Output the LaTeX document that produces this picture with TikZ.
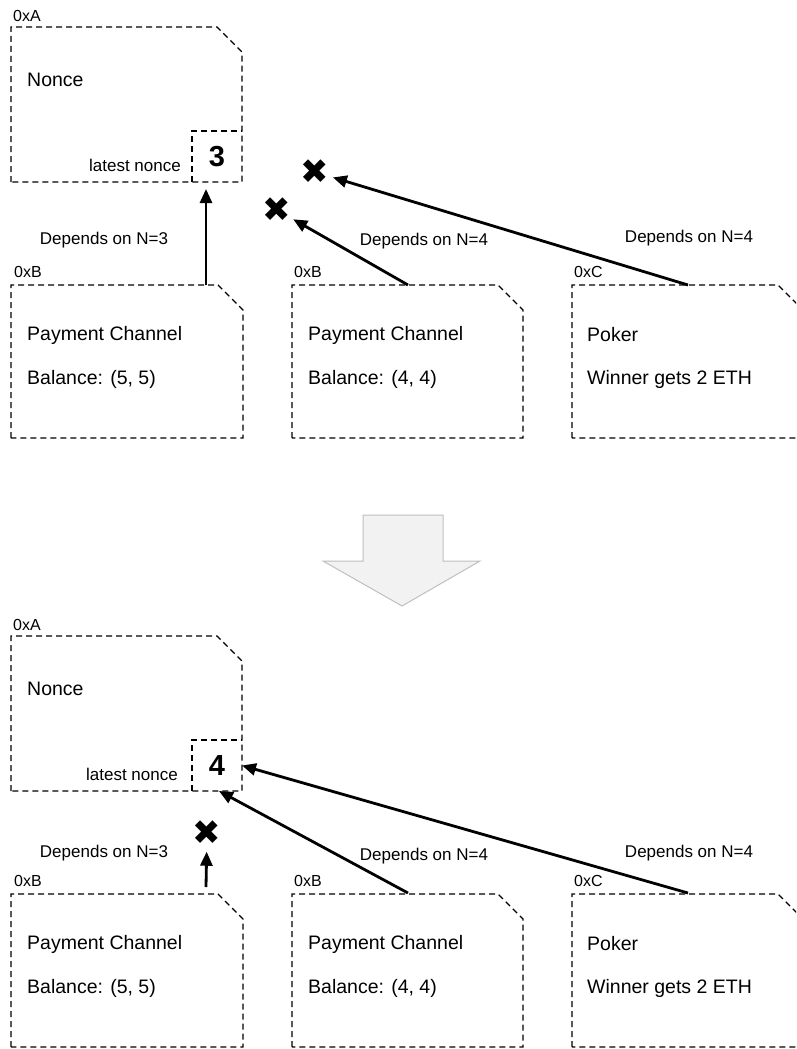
\documentclass[tikz,border=0pt]{standalone}
\usepackage{fontspec}
\setmainfont{Liberation Sans}
\newfontfamily\symfont{DejaVu Sans}
\usetikzlibrary{arrows.meta}

\tikzset{
  frame/.style={inner sep=0pt, outer sep=0pt, anchor=north west},
  dashline/.style={draw=black, line width=1.2pt, dash pattern=on 6pt off 4pt},
  lbl/.style={inner sep=0pt, font=\fontsize{17}{20}\selectfont},
  addr/.style={inner sep=0pt, anchor=west, font=\fontsize{16}{19}\selectfont},
  body/.style={inner sep=0pt, anchor=west, font=\fontsize{19.5}{23}\selectfont},
  nonceval/.style={inner sep=0pt, font=\fontsize{29}{32}\selectfont\bfseries},
  dep/.style={line width=2.8pt, -{Triangle[length=14pt,width=12pt]}},
  cross/.style={circle, inner sep=0pt, minimum size=27pt, font=\symfont\fontsize{34}{36}\selectfont},
  bigarrow/.style={fill=black!5, draw=black!25, line width=1pt, line join=miter},
}
% dashed outline with the upper right corner cut off
\newcommand\chamferframe[1]{%
  \draw[dashline] (#1.south west) |- ([xshift=-25pt]#1.north east)
    -- ([yshift=-25pt]#1.north east) -- (#1.south east) -- cycle;}
% the value cell shares its right and bottom sides with the outer frame
\newcommand\cellframe[1]{%
  \draw[dashline] (#1.south west) |- (#1.north east);}

\begin{document}
\begin{tikzpicture}[x=1pt, y=-1pt]
\clip (0,0) rectangle (796,1049);

% ---------------- state before ----------------
\node[frame, minimum width=231pt, minimum height=155pt] (nA) at (11,27) {};
\chamferframe{nA}
\node[frame, minimum width=50pt, minimum height=51pt] (n3) at (192,131) {};
\cellframe{n3}
\node[nonceval] (v3) at (n3.center) {3};
\node[addr] (tA) at (13,16) {0xA};
\node[body] (tnA) at (27,80) {Nonce};
\node[lbl, anchor=east] (ln1) at (181,165) {latest nonce};

\node[frame, minimum width=232pt, minimum height=153pt] (b1) at (11,285) {};
\chamferframe{b1}
\node[frame, minimum width=231pt, minimum height=153pt] (b2) at (292,285) {};
\chamferframe{b2}
\node[frame, minimum width=231pt, minimum height=153pt] (b3) at (572,285) {};
\chamferframe{b3}

\node[addr] (a1) at (14,272) {0xB};
\node[addr] (a2) at (294,272) {0xB};
\node[addr] (a3) at (574,272) {0xC};
\node[body] (p1) at (27,335) {Payment Channel};
\node[body] (q1) at (27,379) {Balance: (5, 5)};
\node[body] (p2) at (308,335) {Payment Channel};
\node[body] (q2) at (308,379) {Balance: (4, 4)};
\node[body] (p3) at (587,335) {Poker};
\node[body] (q3) at (587,379) {Winner gets 2 ETH};

\node[lbl] (d1) at (104,240) {Depends on N=3};
\node[lbl] (d2) at (424,241) {Depends on N=4};
\node[lbl] (d3) at (689,238) {Depends on N=4};

\node[cross] (x2) at (277,210) {✖};
\node[cross] (x3) at (315,172) {✖};

\coordinate (s1) at (206,285);
\coordinate (e1) at (206,189);
\coordinate (s2) at (408,285);
\coordinate (s3) at (688,285);
\draw[dep] (s1) -- (e1);
\draw[dep] (s2) -- (x2);
\draw[dep] (s3) -- (x3);

% ---------------- transition ----------------
\draw[bigarrow] (363,515) -- (443,515) -- (443,561) -- (480,561) -- (402,606)
  -- (323,561) -- (363,561) -- cycle;

% ---------------- state after ----------------
\node[frame, minimum width=231pt, minimum height=155pt] (mA) at (11,636) {};
\chamferframe{mA}
\node[frame, minimum width=50pt, minimum height=51pt] (n4) at (192,740) {};
\cellframe{n4}
\node[nonceval] (v4) at (n4.center) {4};
\node[addr] (uA) at (13,625) {0xA};
\node[body] (unA) at (27,689) {Nonce};
\node[lbl, anchor=east] (ln2) at (178,774) {latest nonce};

\node[frame, minimum width=232pt, minimum height=153pt] (c1) at (11,894) {};
\chamferframe{c1}
\node[frame, minimum width=231pt, minimum height=153pt] (c2) at (292,894) {};
\chamferframe{c2}
\node[frame, minimum width=231pt, minimum height=153pt] (c3) at (572,894) {};
\chamferframe{c3}

\node[addr] (k1) at (14,881) {0xB};
\node[addr] (k2) at (294,881) {0xB};
\node[addr] (k3) at (574,881) {0xC};
\node[body] (r1) at (27,944) {Payment Channel};
\node[body] (w1) at (27,988) {Balance: (5, 5)};
\node[body] (r2) at (308,944) {Payment Channel};
\node[body] (w2) at (308,988) {Balance: (4, 4)};
\node[body] (r3) at (587,944) {Poker};
\node[body] (w3) at (587,988) {Winner gets 2 ETH};

\node[lbl] (f1) at (104,853) {Depends on N=3};
\node[lbl] (f2) at (424,856) {Depends on N=4};
\node[lbl] (f3) at (689,853) {Depends on N=4};

\node[cross] (x1) at (207,833) {✖};

\coordinate (t1) at (206,887);
\coordinate (t2) at (408,893);
\coordinate (t3) at (688,893);
\draw[dep] (t1) -- (x1);
\draw[dep] (t2) -- ([xshift=2pt]n4.south);
\draw[dep] (t3) -- (n4.east);
\end{tikzpicture}
\end{document}
